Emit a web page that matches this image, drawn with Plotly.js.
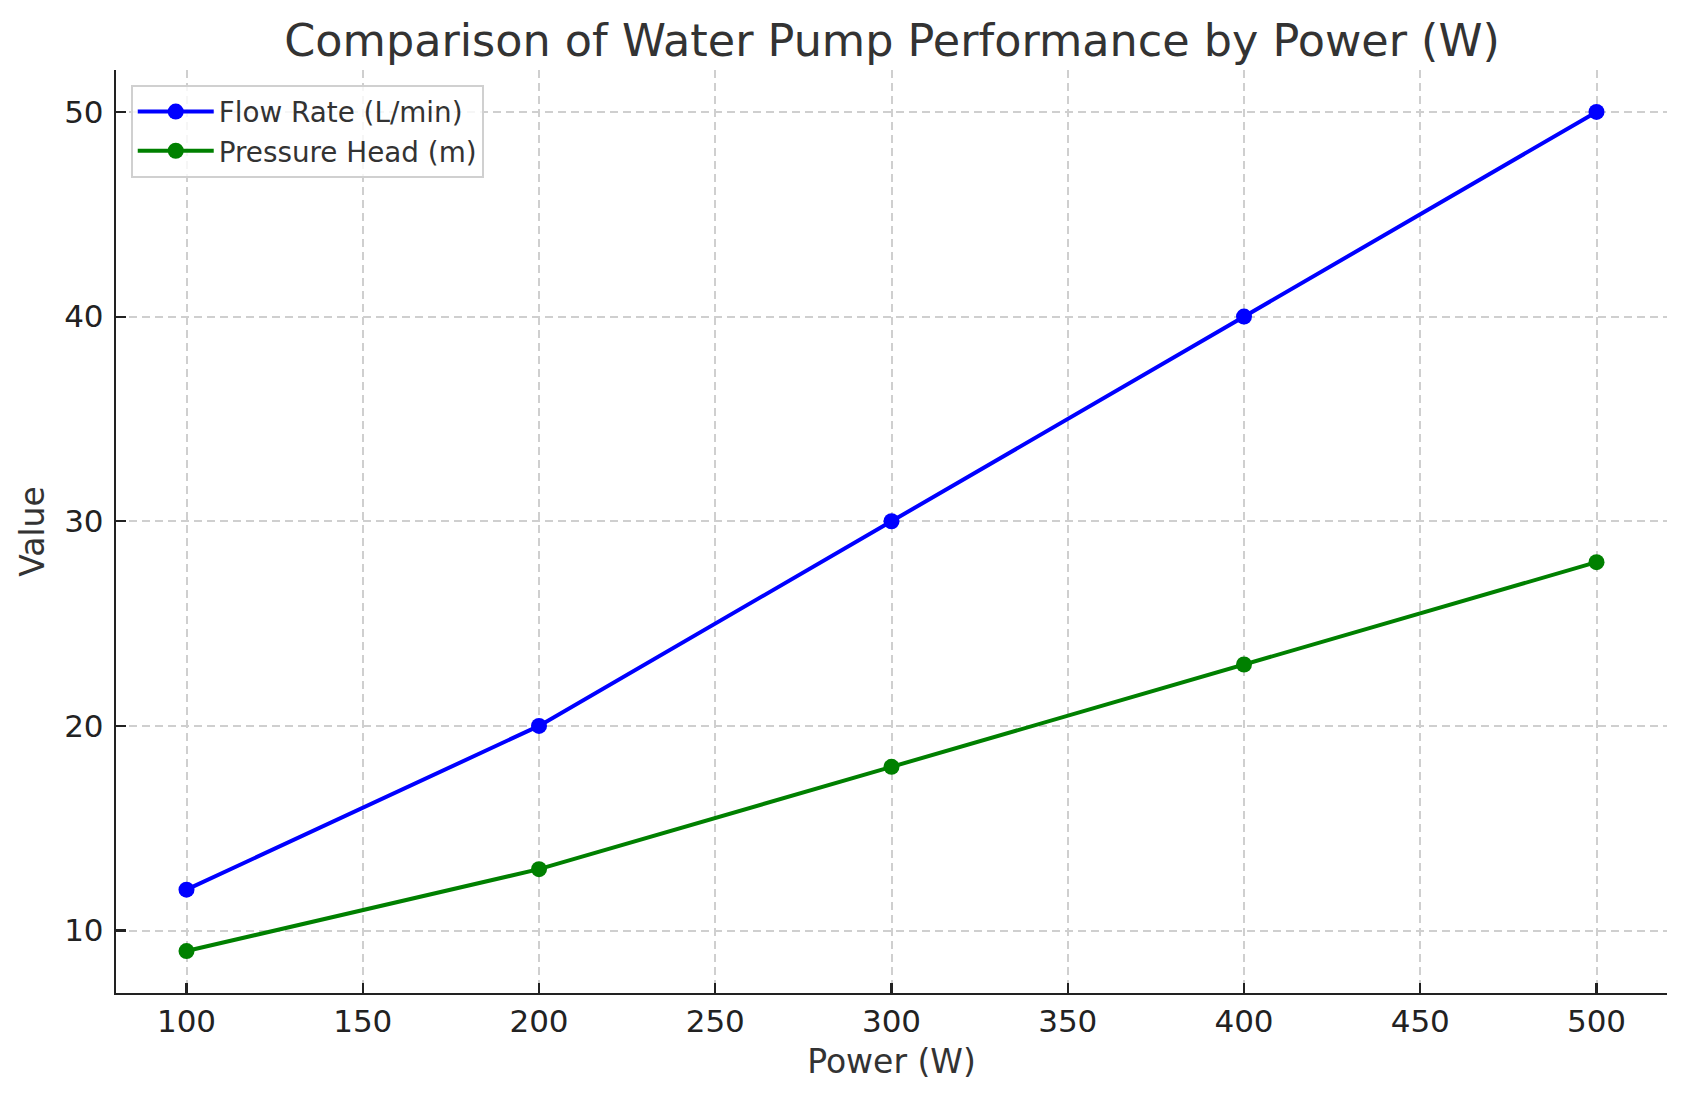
<!DOCTYPE html>
<html>
<head>
<meta charset="utf-8">
<script src="https://cdn.plot.ly/plotly-3.0.1.min.js"></script>
<style>
html,body{margin:0;padding:0;background:#fff;}
#chart{width:1686px;height:1101px;}
</style>
</head>
<body>
<div id="chart"></div>
<script>
const power = [100, 200, 300, 400, 500];
const flowRate = [12, 20, 30, 40, 50];
const pressureHead = [9, 13, 18, 23, 28];
const seriesNames = ["Flow Rate (L/min)", "Pressure Head (m)"];
const xTicks = [100, 150, 200, 250, 300, 350, 400, 450, 500];
const yTicks = [10, 20, 30, 40, 50];

const font = "DejaVu Sans, sans-serif";

const traces = [
  {x: power, y: flowRate, name: seriesNames[0], mode: "lines+markers",
   line: {color: "#0000ff", width: 4}, marker: {color: "#0000ff", size: 16}},
  {x: power, y: pressureHead, name: seriesNames[1], mode: "lines+markers",
   line: {color: "#008000", width: 4}, marker: {color: "#008000", size: 16}}
];

const axisCommon = {
  showline: true, linecolor: "#222", linewidth: 2.2,
  ticks: "inside", ticklen: 10, tickwidth: 2.2, tickcolor: "#222",
  showgrid: true, gridcolor: "#cfcfcf", gridwidth: 2, griddash: "8px,5px",
  zeroline: false, tickfont: {family: font, size: 31, color: "#222"},
  mirror: false
};

const layout = {
  width: 1686, height: 1101,
  margin: {l: 116, r: 19, t: 70, b: 108},
  paper_bgcolor: "#fff", plot_bgcolor: "#fff",
  title: {text: "Comparison of Water Pump Performance by Power (W)",
          font: {family: font, size: 44.5, color: "#333"},
          x: 0.5291, xanchor: "center", y: 1 - 40/1101, yanchor: "middle", yref: "container"},
  xaxis: Object.assign({}, axisCommon, {
    range: [80, 520], tickvals: xTicks, ticktext: xTicks.map(String),
    ticklabelstandoff: 0,
    title: {text: "Power (W)", font: {family: font, size: 33, color: "#333"}, standoff: 12}
  }),
  yaxis: Object.assign({}, axisCommon, {
    range: [6.95, 52.05], tickvals: yTicks, ticktext: yTicks.map(String),
    ticklabelstandoff: 4,
    title: {text: "Value", font: {family: font, size: 33, color: "#333"}, standoff: 10}
  }),
  showlegend: true,
  legend: {x: 0.0095, y: 0.9837, xanchor: "left", yanchor: "top",
           itemwidth: 76,
           bgcolor: "rgba(255,255,255,0.8)", bordercolor: "#d0d0d0", borderwidth: 2,
           font: {family: font, size: 27.8, color: "#333"}}
};

Plotly.newPlot("chart", traces, layout, {displayModeBar: false, staticPlot: true});
</script>
</body>
</html>
